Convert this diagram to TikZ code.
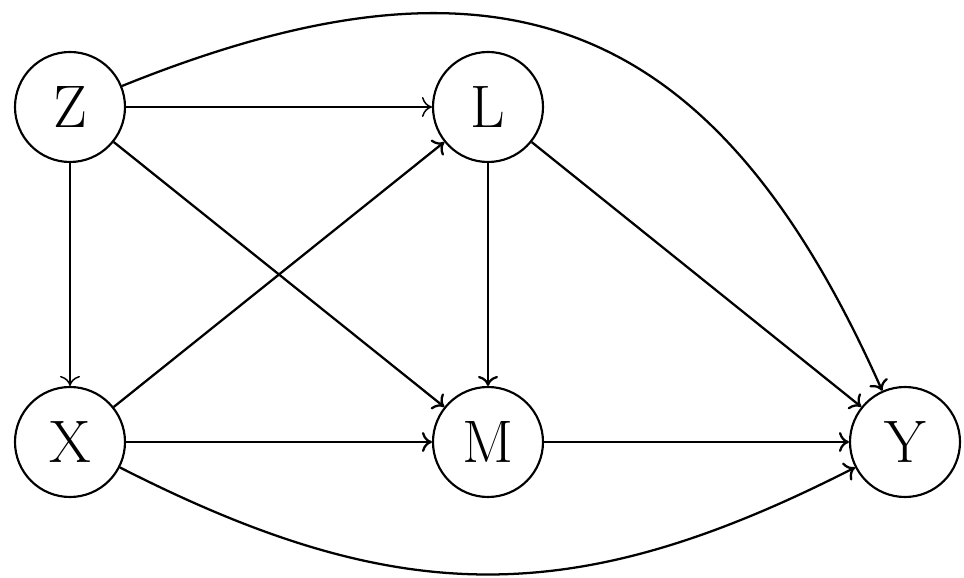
\documentclass[tikz,border=0pt]{standalone}
\usetikzlibrary{arrows.meta}
\begin{document}
\begin{tikzpicture}[x=0.75pt,y=0.75pt,
  var/.style={draw,circle,line width=1.6pt,minimum size=82.5pt,inner sep=0pt,font=\fontsize{45}{54}\selectfont},
  arr/.style={-{To[length=7.5pt,width=15pt]},line width=1.7pt},
  thinarr/.style={-{To[length=7.5pt,width=15pt]},line width=1.1pt}]
\useasboundingbox (0,0) rectangle (964,578);
\node[var] (Z) at (70,471) {Z};
\node[var] (L) at (488,471) {L};
\node[var] (X) at (70,136) {X};
\node[var] (M) at (488,136) {M};
\node[var] (Y) at (905,136) {Y};
\draw[thinarr] (Z) -- (L);
\draw[thinarr] (Z) -- (X);
\draw[arr] (Z) -- (M);
\draw[arr] (X) -- (L);
\draw[arr] (X) -- (M);
\draw[arr] (L) -- (M);
\draw[arr] (L) -- (Y);
\draw[arr] (M) -- (Y);
\draw[arr] (Z.22) .. controls +(22:410) and +(114:410) .. (Y.114);
\draw[arr] (X.-27) .. controls +(-27:314) and +(-153:314) .. (Y.-153);
\end{tikzpicture}
\end{document}
